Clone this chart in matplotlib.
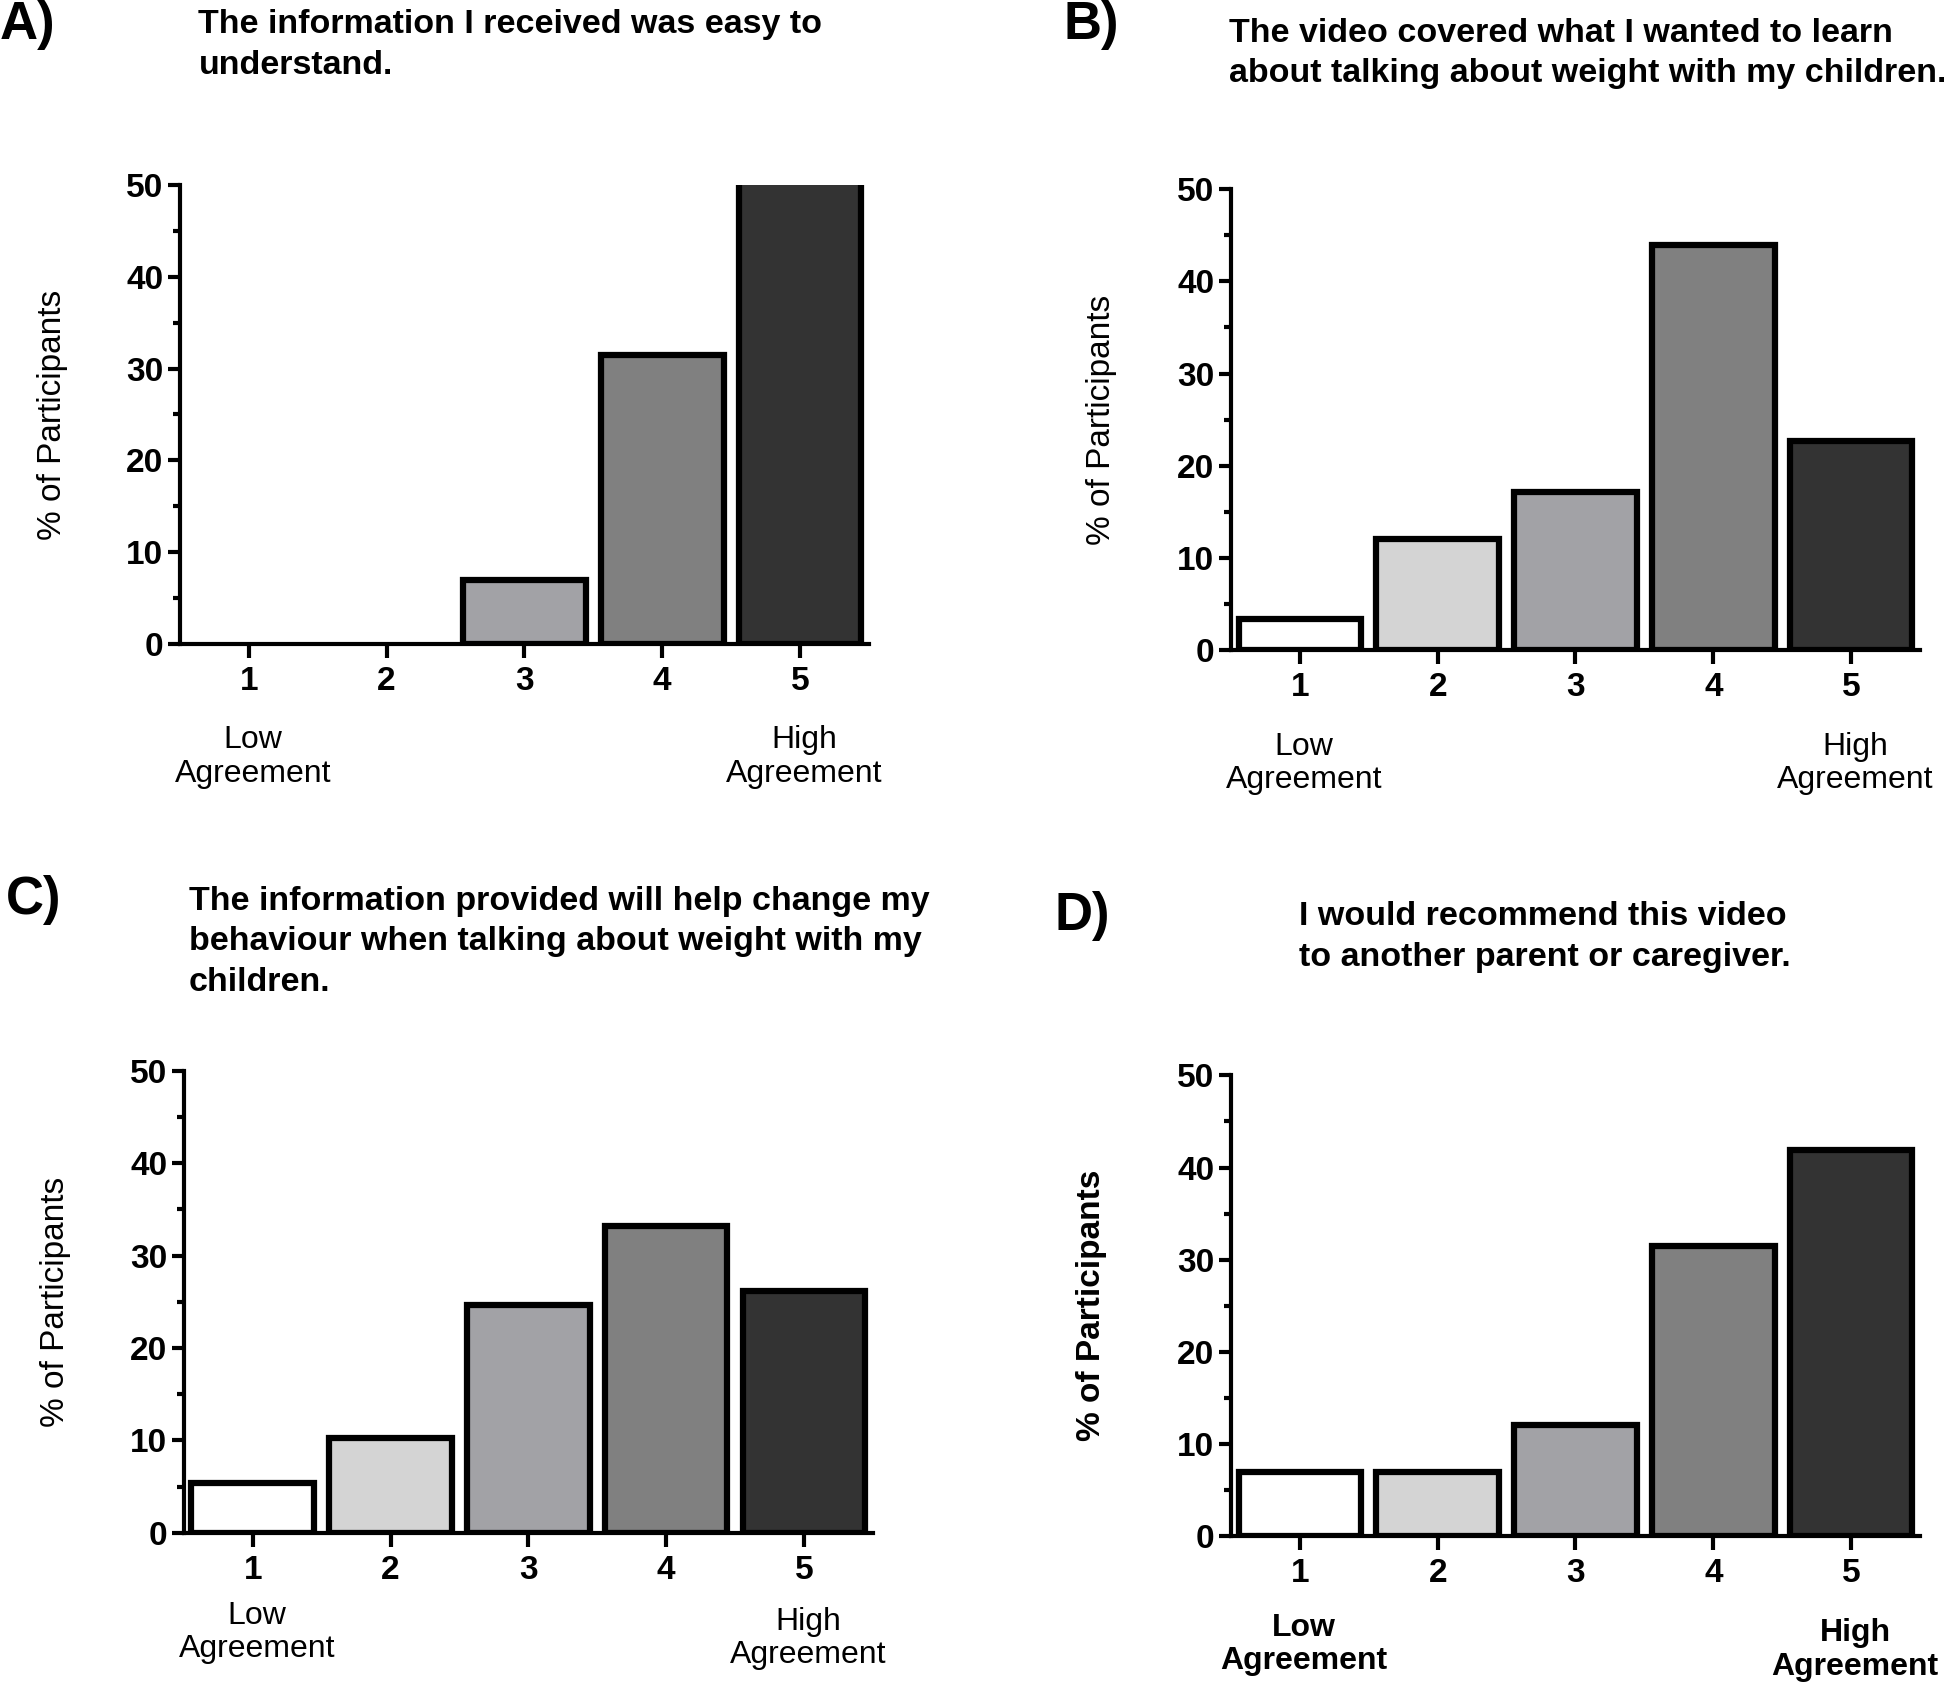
import matplotlib
matplotlib.use("Agg")
import matplotlib.pyplot as plt
from matplotlib.ticker import MultipleLocator

plt.rcParams['font.family'] = ['Liberation Sans', 'DejaVu Sans']

categories = [1, 2, 3, 4, 5]
bar_colors = ['#ffffff', '#d4d4d4', '#a2a2a6', '#808080', '#333333']

values_a = [0, 0, 7.0, 31.5, 61.5]   # bar 5 runs past the 50% axis limit
values_b = [3.4, 12.1, 17.2, 43.9, 22.7]
values_c = [5.4, 10.3, 24.6, 33.2, 26.2]
values_d = [6.9, 6.9, 12.1, 31.5, 41.9]

titles = [
    "The information I received was easy to\nunderstand.",
    "The video covered what I wanted to learn\nabout talking about weight with my children.",
    "The information provided will help change my\nbehaviour when talking about weight with my\nchildren.",
    "I would recommend this video\nto another parent or caregiver.",
]
panel_labels = ["A)", "B)", "C)", "D)"]
ylabel = "% of Participants"

fig = plt.figure(figsize=(19.46, 16.89), dpi=100)

panels = [
    # values, axes rect, title xy, panel label xy, ylabel x, agreement-text y (low, high), bold text
    (values_a, [0.0925, 0.6187, 0.354, 0.2718], (0.102, 0.9734), (0.0, 0.985), -0.162, (-12.3, -12.3), False),
    (values_b, [0.6326, 0.6150, 0.354, 0.2730], (0.6313, 0.9684), (0.5465, 0.985), -0.166, (-12.3, -12.3), False),
    (values_c, [0.0945, 0.0924, 0.354, 0.2737], (0.0969, 0.4423), (0.003, 0.467), -0.164, (-10.75, -11.4), False),
    (values_d, [0.6326, 0.0906, 0.354, 0.2727], (0.6676, 0.4452), (0.542, 0.4577), -0.180, (-11.8, -12.4), True),
]

for i, (vals, rect, txy, lxy, ylx, agy, bold) in enumerate(panels):
    ax = fig.add_axes(rect)
    lw = [0 if v == 0 else 4.5 for v in vals]
    ax.bar(categories, vals, width=0.89, color=bar_colors, edgecolor='black',
           linewidth=lw, zorder=2)
    ax.set_xlim(0.5, 5.5)
    ax.set_ylim(0, 50)
    ax.spines['top'].set_visible(False)
    ax.spines['right'].set_visible(False)
    ax.spines['left'].set_linewidth(3)
    ax.spines['bottom'].set_linewidth(3)
    ax.spines['left'].set_zorder(3)
    ax.spines['bottom'].set_zorder(3)

    ax.set_xticks(categories)
    ax.yaxis.set_major_locator(MultipleLocator(10))
    ax.yaxis.set_minor_locator(MultipleLocator(5))
    ax.tick_params(axis='y', which='major', length=9, width=3, pad=3, labelsize=24)
    ax.tick_params(axis='y', which='minor', length=5, width=3)
    ax.tick_params(axis='x', which='major', length=10, width=3, pad=6, labelsize=24)
    for lab in ax.get_xticklabels() + ax.get_yticklabels():
        lab.set_fontweight('bold')

    ax.set_ylabel(ylabel, fontsize=24, fontweight='bold' if bold else 'normal')
    ax.yaxis.set_label_coords(ylx, 0.5)

    w = 'bold' if bold else 'normal'
    ax.text(categories[0] + 0.03, agy[0], "Low\nAgreement", ha='center', va='center',
            fontsize=23, fontweight=w, linespacing=1.15, clip_on=False)
    ax.text(categories[-1] + 0.03, agy[1], "High\nAgreement", ha='center', va='center',
            fontsize=23, fontweight=w, linespacing=1.15, clip_on=False)

    fig.text(txy[0], txy[1], titles[i], ha='left', va='center', fontsize=24.5,
             fontweight='bold', linespacing=1.4)
    fig.text(lxy[0], lxy[1], panel_labels[i], ha='left', va='center', fontsize=38,
             fontweight='bold')

fig.savefig("out.png", dpi=100)
